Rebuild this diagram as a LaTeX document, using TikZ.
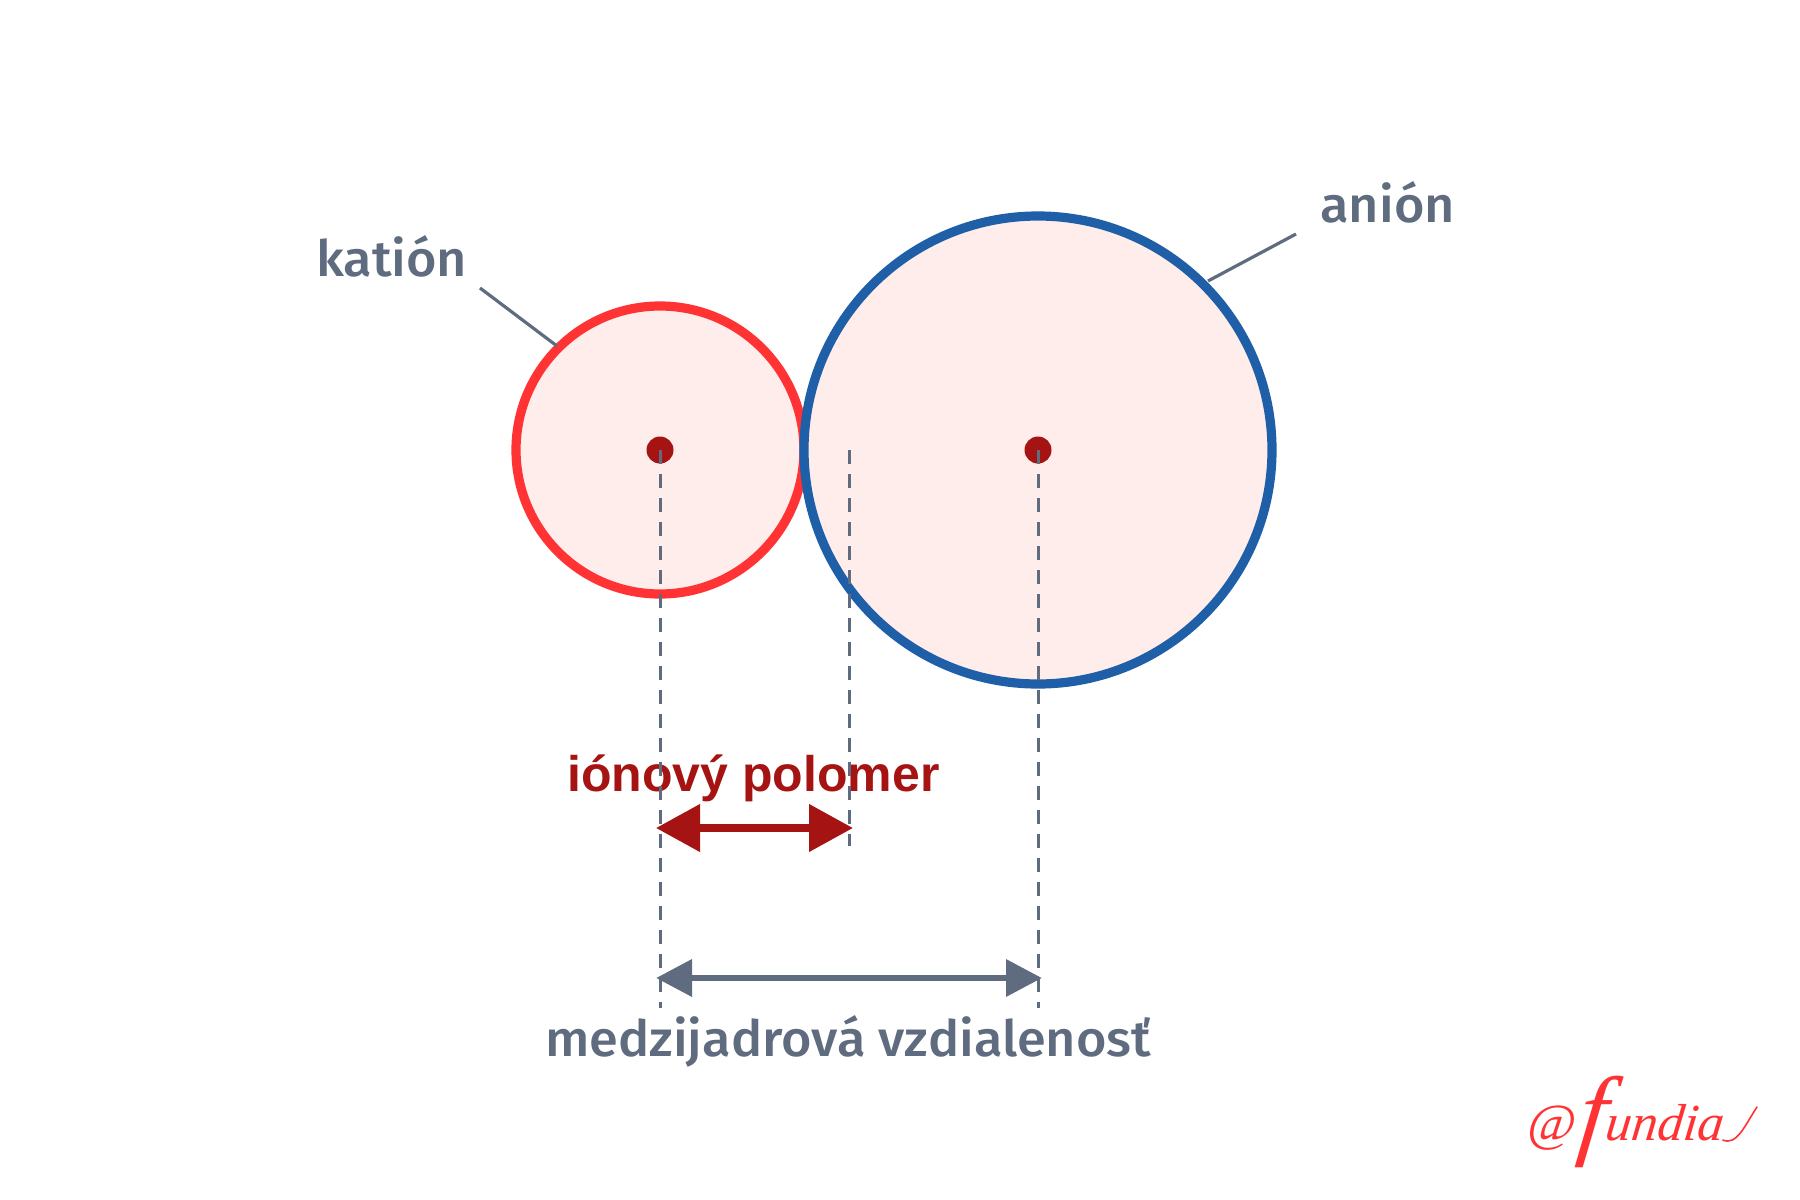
\documentclass[tikz,border=0pt]{standalone}
\usepackage{fontspec}
\setmainfont{Liberation Sans}
\newfontfamily\medfont{Fira Sans}[UprightFont=* Medium,FakeStretch=1.045]
\newfontfamily\logofont{Liberation Serif}[FakeSlant=0.12]
\usetikzlibrary{arrows.meta}
\definecolor{slateink}{HTML}{5F6C80}
\definecolor{darkred}{HTML}{A51412}
\definecolor{brightred}{HTML}{FF3333}
\definecolor{ionblue}{HTML}{1F5FA8}
\definecolor{ionfill}{HTML}{FEEDEB}
\tikzset{
  ion/.style={circle,draw,line width=4.6pt,fill=ionfill,inner sep=0pt},
  nucleus/.style={circle,fill=darkred,minimum size=13.5pt,inner sep=0pt},
  guide/.style={slateink,line width=1.5pt,dash pattern=on 7pt off 5pt},
  leader/.style={slateink,line width=1.6pt},
  label/.style={font=\medfont\fontsize{25}{30}\selectfont,text=slateink,inner sep=0pt,anchor=base west},
  redspan/.style={darkred,line width=3.8pt,{Triangle[length=22pt,width=23pt]}-{Triangle[length=22pt,width=23pt]}},
  grayspan/.style={slateink,line width=3.4pt,{Triangle[length=18pt,width=18pt]}-{Triangle[length=18pt,width=18pt]}}
}
\begin{document}
\begin{tikzpicture}[x=0.5pt,y=-0.5pt]
\useasboundingbox (0,0) rectangle (1800,1200);
\node[ion,draw=brightred,minimum size=144pt] (cation) at (660,450) {};
\node[ion,draw=ionblue,minimum size=234pt] (anion) at (1038,450) {};
\node[nucleus] (ncat) at (660,450) {};
\node[nucleus] (nan) at (1038,450) {};
\coordinate (mid) at (849,450);
\coordinate (catbot) at (660,1008);
\coordinate (midbot) at (849,846);
\coordinate (anbot) at (1038,1008);
\node[label] (katlabel) at (316,276) {katión};
\node[label] (anlabel) at (1320,222) {anión};
\node[label,text=darkred,font=\fontsize{25}{30}\selectfont\bfseries] (ionr) at (567,791) {iónový polomer};
\node[label] (dist) at (545,1056) {medzijadrová vzdialenosť};
\coordinate (katfree) at (480,288);
\coordinate (katend) at (557,346);
\coordinate (anfree) at (1296,234);
\coordinate (anend) at (1208,281);
\draw[leader] (katfree) -- (katend);
\draw[leader] (anfree) -- (anend);
\draw[guide] (ncat.center) -- (catbot);
\draw[guide] (mid) -- (midbot);
\draw[guide] (nan.center) -- (anbot);
\coordinate (ra) at (656,828);
\coordinate (rb) at (853,828);
\coordinate (ga) at (656,978);
\coordinate (gb) at (1042,978);
\draw[redspan] (ra) -- (rb);
\draw[grayspan] (ga) -- (gb);
\node[inner sep=0pt,text=brightred,anchor=base west,font=\logofont\itshape\fontsize{26}{30}\selectfont] (logo) at (1526,1140) {@\hspace{1pt}\raisebox{-3pt}{\fontsize{50}{50}\selectfont f}undia};
\coordinate (swashend) at (1757,1107);
\draw[brightred,line width=0.8pt,line cap=round] (logo.base east) .. controls +(14,6) and +(-12,18) .. (swashend);
\end{tikzpicture}
\end{document}
